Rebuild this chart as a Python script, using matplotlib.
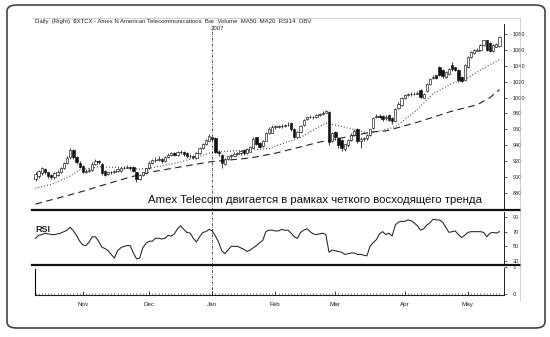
import matplotlib
matplotlib.use('Agg')
import matplotlib.pyplot as plt
import numpy as np
import pandas as pd
from matplotlib.patches import FancyBboxPatch
from matplotlib.lines import Line2D
from matplotlib import font_manager

# ---------------- data ----------------
holidays = ['2006-11-23', '2006-12-25', '2007-01-01', '2007-01-02',
            '2007-01-15', '2007-02-19', '2007-04-06']
dates = pd.bdate_range('2006-10-11', '2007-05-15', freq='C', holidays=holidays)

opens = [897, 901, 905, 910, 906, 903, 900, 903, 906, 912, 918, 925, 934, 925, 918, 914, 907, 908, 909, 917,
         920, 917, 908, 904, 906, 906, 908, 908, 911, 912, 913, 913, 906, 898, 902, 905, 911, 918, 921, 922,
         923, 920, 925, 928, 930, 928, 931, 932, 930, 926, 927, 924, 930, 937, 941, 946, 950, 949, 932, 928,
         917, 923, 926, 927, 929, 930, 934, 930, 932, 937, 950, 943, 939, 946, 955, 956, 963, 963, 964, 964,
         965, 968, 961, 951, 957, 965, 973, 975, 976, 975, 978, 979, 981, 982, 946, 957, 949, 947, 935, 940,
         947, 953, 961, 946, 948, 949, 953, 962, 975, 977, 977, 974, 978, 974, 970, 987, 991, 999, 1003, 1004,
         1004, 1005, 1009, 1000, 1008, 1017, 1025, 1028, 1038, 1035, 1026, 1030, 1041, 1038, 1035, 1026, 1022, 1038, 1051, 1056,
         1059, 1060, 1066, 1072, 1069, 1058, 1064, 1065]
highs = [906, 909, 913, 912, 907, 904, 906, 909, 913, 919, 926, 937, 935, 926, 920, 915, 910, 911, 919, 923,
         922, 918, 909, 907, 908, 909, 911, 913, 914, 915, 914, 914, 907, 904, 907, 912, 920, 923, 925, 927,
         924, 926, 930, 932, 931, 933, 934, 933, 931, 929, 928, 931, 938, 943, 948, 954, 951, 950, 934, 929,
         924, 927, 929, 931, 932, 934, 935, 936, 939, 950, 951, 944, 947, 957, 963, 965, 966, 966, 967, 967,
         969, 969, 962, 958, 965, 973, 977, 978, 977, 979, 981, 983, 985, 983, 957, 958, 950, 948, 942, 948,
         955, 960, 962, 950, 951, 954, 961, 976, 979, 979, 978, 978, 979, 975, 987, 994, 1001, 1005, 1006, 1007,
         1007, 1008, 1011, 1006, 1018, 1025, 1028, 1029, 1040, 1036, 1033, 1037, 1045, 1039, 1036, 1027, 1042, 1052, 1058, 1061,
         1062, 1067, 1073, 1073, 1070, 1067, 1069, 1078]
lows = [895, 899, 903, 904, 899, 897, 898, 901, 905, 910, 916, 923, 923, 917, 911, 905, 905, 906, 908, 915,
        917, 903, 901, 902, 904, 905, 906, 907, 910, 911, 909, 906, 894, 896, 901, 904, 910, 916, 919, 920,
        918, 919, 924, 926, 926, 927, 929, 927, 924, 924, 923, 923, 929, 935, 940, 945, 946, 930, 927, 912,
        915, 921, 924, 926, 928, 928, 928, 929, 931, 936, 940, 936, 938, 945, 954, 955, 961, 962, 962, 963,
        964, 958, 949, 950, 956, 964, 972, 974, 973, 974, 977, 978, 980, 940, 944, 947, 937, 933, 933, 938,
        946, 952, 943, 937, 946, 947, 952, 961, 974, 974, 971, 972, 970, 967, 969, 986, 990, 998, 1002, 1002,
        1003, 1004, 999, 999, 1007, 1016, 1023, 1023, 1027, 1025, 1025, 1029, 1034, 1033, 1020, 1019, 1021, 1037, 1050, 1055,
        1058, 1059, 1065, 1058, 1057, 1057, 1063, 1064]
closes = [904, 908, 911, 906, 901, 900, 905, 907, 912, 918, 924, 934, 925, 919, 913, 907, 908, 909, 917, 920,
          919, 905, 903, 906, 907, 908, 910, 911, 912, 913, 911, 908, 898, 903, 906, 911, 918, 921, 922, 923,
          920, 925, 928, 930, 928, 931, 932, 929, 926, 927, 925, 930, 937, 942, 947, 952, 948, 932, 930, 918,
          923, 926, 928, 929, 930, 933, 930, 935, 938, 948, 942, 938, 946, 956, 961, 963, 963, 964, 964, 965,
          966, 960, 951, 957, 964, 972, 975, 976, 975, 978, 979, 981, 983, 944, 955, 950, 940, 936, 941, 947,
          953, 958, 945, 948, 949, 953, 960, 974, 977, 976, 973, 976, 972, 970, 986, 992, 999, 1003, 1004, 1004,
          1005, 1006, 1001, 1005, 1017, 1024, 1026, 1025, 1029, 1027, 1032, 1036, 1036, 1035, 1022, 1021, 1041, 1051, 1057, 1060,
          1060, 1066, 1072, 1060, 1058, 1066, 1068, 1076]

ma20_days = [0, 5, 10, 14, 20, 27, 33, 36, 46, 55, 59, 68, 74, 84, 92, 100, 106, 113, 115, 121, 126, 132, 137, 142, 147]
ma20_vals = [886, 891, 899, 909, 913, 912, 910, 911, 919, 930, 932, 934, 936, 950, 968, 961, 955, 962, 966, 985, 1005, 1018, 1025, 1037, 1048]
ma50_days = [0, 14, 24, 30, 36, 55, 68, 76, 90, 98, 107, 111, 121, 132, 140, 144, 147]
ma50_vals = [866, 881, 893, 900, 906, 919, 924, 930, 944, 950, 957, 958, 969, 983, 991, 1000, 1010]

rsi = [61, 65, 66, 68, 67, 66, 66, 67, 68, 70, 72, 76, 71, 65, 57, 52, 51, 56, 63, 63,
       57, 49, 47, 44, 39, 34, 44, 48, 50, 51, 51, 41, 33, 34, 48, 54, 57, 57, 61, 61,
       60, 61, 65, 64, 67, 74, 78, 73, 69, 68, 61, 56, 63, 69, 70, 73, 71, 64, 56, 44,
       40, 45, 50, 50, 50, 48, 46, 43, 45, 48, 51, 55, 58, 70, 72, 72, 71, 71, 73, 72,
       72, 68, 63, 61, 69, 72, 74, 70, 67, 66, 67, 68, 66, 42, 45, 44, 43, 42, 39, 40,
       41, 41, 39, 39, 38, 37, 50, 55, 59, 67, 70, 66, 68, 64, 79, 83, 84, 84, 86, 85,
       82, 78, 72, 74, 79, 82, 87, 86, 86, 83, 76, 69, 70, 71, 66, 62, 65, 69, 70, 70,
       70, 70, 69, 63, 68, 69, 68, 70]

price_ticks = [880, 900, 920, 940, 960, 980, 1000, 1020, 1040, 1060, 1080]
rsi_ticks = [30, 50, 70, 90]
title_text = r"Daily  (Right)  \$XTCX - Amex N American Telecommunications  Bar  Volume  MA50  MA20  RSI14  OBV"
note_text = "Amex Telecom двигается в рамках четкого восходящего тренда"

# ---------------- layout ----------------
n = min(len(dates), len(closes))
idx = np.arange(n)
W, H = 550, 337
fig = plt.figure(figsize=(5.5, 3.37), dpi=100)
fig.patch.set_facecolor('white')

def rect(x0, y0, x1, y1):
    return [x0 / W, 1 - y1 / H, (x1 - x0) / W, (y1 - y0) / H]

axp = fig.add_axes(rect(32, 18, 504, 210))
axr = fig.add_axes(rect(32, 210, 504, 265))
axv = fig.add_axes(rect(32, 265, 504, 295))

x_first = 35.5
ppd = 3.156
xlim = (-(x_first - 32) / ppd, (504 - x_first) / ppd)

month_pos = [i for i in range(1, n) if dates[i].month != dates[i - 1].month]
month_lab = [dates[i].strftime('%b') for i in month_pos]
jan_pos = [i for i in month_pos if dates[i].month == 1][0]

names = {f.name for f in font_manager.fontManager.ttflist}
base_font = 'Liberation Sans' if 'Liberation Sans' in names else 'DejaVu Sans'

for ax in (axp, axr, axv):
    ax.set_xlim(*xlim)
    for s in ('top', 'left', 'bottom'):
        ax.spines[s].set_visible(False)
    ax.spines['right'].set_linewidth(0.7)
    ax.spines['right'].set_color('#222')
    ax.yaxis.tick_right()
    ax.tick_params(axis='y', which='major', length=2, width=0.5, pad=4,
                   labelsize=4, colors='#222')
    ax.set_facecolor('none')
    for t in ax.get_yticklabels():
        t.set_family(base_font)

# candles
for i in idx:
    o, h, l, c = opens[i], highs[i], lows[i], closes[i]
    axp.vlines(i, l, h, color='#111', lw=0.55, zorder=2)
    up = c >= o
    bot = min(o, c)
    ht = max(abs(c - o), 0.8)
    axp.bar(i, ht, bottom=bot, width=0.75,
            color='white' if up else '#111', edgecolor='#111', lw=0.45, zorder=3)

axp.plot(ma20_days, ma20_vals, color='#222', lw=0.9, linestyle=(0, (0.6, 1.8)), zorder=1)
axp.plot(ma50_days, ma50_vals, color='#222', lw=0.8, linestyle=(0, (6, 4)), zorder=1)
axp.set_ylim(858.6, 1100.1)
axp.set_yticks(price_ticks)
axp.set_yticklabels([str(v) for v in price_ticks], family=base_font)
axp.spines['right'].set_bounds(858.6, 1092)
axp.set_xticks([])
axp.axvline(jan_pos, ymin=0, ymax=(210 - 30) / 192, color='#333', lw=0.6,
            linestyle=(0, (3, 1.5, 0.8, 1.5)), zorder=0)

# RSI
axr.plot(idx, rsi[:n], color='#222', lw=0.75)
axr.set_ylim(24.6, 99.5)
axr.set_yticks(rsi_ticks)
axr.set_yticklabels([str(v) for v in rsi_ticks], family=base_font)
axr.spines['right'].set_bounds(26.5, 97)
axr.set_xticks([])
axr.axvline(jan_pos, color='#333', lw=0.6, linestyle=(0, (3, 1.5, 0.8, 1.5)), zorder=0)

# volume / OBV panel (empty)
axv.set_ylim(-0.04, 1.07)
axv.set_yticks([0, 1])
axv.set_yticklabels(['0', '1'], family=base_font)
axv.spines['right'].set_bounds(-0.04, 0.95)
axv.spines['bottom'].set_visible(True)
axv.spines['bottom'].set_linewidth(0.8)
axv.spines['bottom'].set_color('#222')
axv.spines['bottom'].set_bounds(xlim[0] + 0.9, xlim[1])
axv.spines['left'].set_visible(True)
axv.spines['left'].set_position(('data', -0.15))
axv.spines['left'].set_linewidth(0.8)
axv.spines['left'].set_bounds(-0.04, 0.92)
axv.axvline(jan_pos, color='#333', lw=0.6, linestyle=(0, (3, 1.5, 0.8, 1.5)), zorder=0)

axv.set_xticks(month_pos)
axv.set_xticklabels(month_lab, family=base_font)
axv.set_xticks(idx, minor=True)
axv.tick_params(axis='x', which='major', direction='in', length=3, width=0.6,
                labelsize=4.5, pad=5, colors='#222')
axv.tick_params(axis='x', which='minor', direction='in', length=1.4, width=0.4, colors='#333')

# separators and frame lines
def hline(y, x0, x1, lw, color):
    fig.add_artist(Line2D([x0 / W, x1 / W], [1 - y / H, 1 - y / H], lw=lw, color=color))

def vline(x, y0, y1, lw, color):
    fig.add_artist(Line2D([x / W, x / W], [1 - y0 / H, 1 - y1 / H], lw=lw, color=color))

hline(18, 32, 520, 0.5, '#bbb')
hline(210, 32, 520, 1.6, '#111')
hline(265, 32, 520, 1.6, '#111')
vline(520, 18, 300, 0.5, '#bbb')

fig.add_artist(FancyBboxPatch((7 / W, 1 - 328 / H), 538 / W, 323 / H,
                              boxstyle='round,pad=0,rounding_size=0.018',
                              transform=fig.transFigure, fill=False,
                              ec='#444', lw=1.2))

# texts
fig.text(35 / W, 1 - 22 / H, title_text, fontsize=4.3, family=base_font,
         color='#222', va='center', ha='left')
jan_px = x_first + jan_pos * ppd
fig.text((jan_px - 2) / W, 1 - 29 / H, '2007', fontsize=4.3, family=base_font,
         color='#222', va='center', ha='left')

if 'Liberation Sans Narrow' in names:
    fig.text(148 / W, 1 - 203 / H, note_text, fontsize=10,
             family='Liberation Sans Narrow', color='#111', va='baseline', ha='left')
else:
    fig.text(148 / W, 1 - 203 / H, note_text, fontsize=8.2,
             family=base_font, color='#111', va='baseline', ha='left')

fig.text(35 / W, 1 - 232 / H, 'RSI', fontsize=6.5, family=base_font,
         fontweight='bold', color='#222', va='baseline', ha='left')

fig.savefig('out.png', dpi=100, facecolor='white')
